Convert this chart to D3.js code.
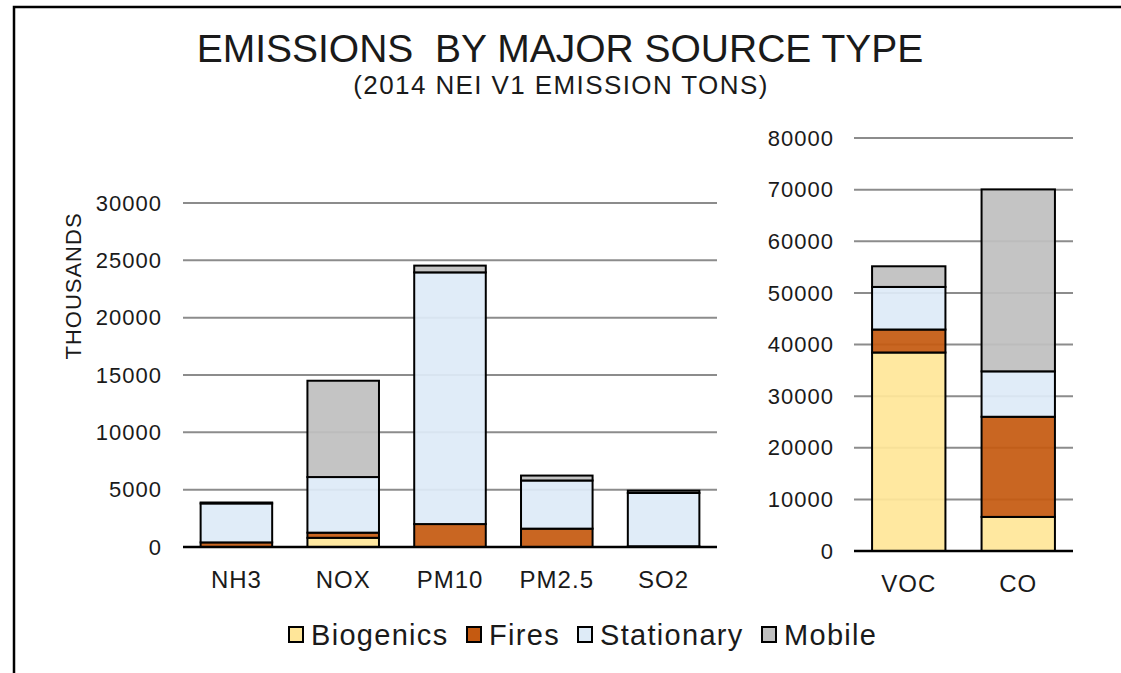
<!DOCTYPE html>
<html>
<head>
<meta charset="utf-8">
<script src="https://cdn.jsdelivr.net/npm/d3@7"></script>
<style>
  body { margin: 0; background: #fff; }
  text { font-family: 'Liberation Sans', Arial, sans-serif; fill: #1a1a1a; }
</style>
</head>
<body>
<script>
// Series (stack order, bottom to top)
var seriesNames = ['Biogenics', 'Fires', 'Stationary', 'Mobile']
var seriesColors = ['#FFE699', '#C55A11', '#DEEBF7', '#BFBFBF']

// Left panel, thousands of tons
var leftCategories = ['NH3', 'NOX', 'PM10', 'PM2.5', 'SO2']
var leftBiogenics = [0, 800, 0, 0, 0]
var leftFires = [400, 450, 2000, 1600, 60]
var leftStationary = [3400, 4850, 21950, 4200, 4650]
var leftMobile = [80, 8400, 590, 430, 200]
var leftTicks = [0, 5000, 10000, 15000, 20000, 25000, 30000]

// Right panel
var rightCategories = ['VOC', 'CO']
var rightBiogenics = [38450, 6600]
var rightFires = [4450, 19400]
var rightStationary = [8250, 8800]
var rightMobile = [4000, 35240]
var rightTicks = [0, 10000, 20000, 30000, 40000, 50000, 60000, 70000, 80000]

var width = 1121
var height = 673

var svg = d3.select('body').append('svg')
    .attr('width', width)
    .attr('height', height)

// outer frame (top and left edges)
svg.append('path')
    .attr('d', 'M14,673 L14,7 L1121,7')
    .attr('fill', 'none')
    .attr('stroke', '#000')
    .attr('stroke-width', 2.5)

svg.append('text')
    .attr('x', 560).attr('y', 62)
    .attr('text-anchor', 'middle')
    .style('font-size', '39px')
    .style('white-space', 'pre')
    .text('EMISSIONS  BY MAJOR SOURCE TYPE')

svg.append('text')
    .attr('x', 561).attr('y', 94)
    .attr('text-anchor', 'middle')
    .style('font-size', '26px')
    .style('letter-spacing', '1.4px')
    .text('(2014 NEI V1 EMISSION TONS)')

function buildRows(categories, bio, fires, stat, mobile) {
    return categories.map(function(c, i) {
        return { category: c, Biogenics: bio[i], Fires: fires[i], Stationary: stat[i], Mobile: mobile[i] }
    })
}

function drawPanel(rows, ticks, x0, x1, yBottom, yTop, labelRight, labelY) {
    var x = d3.scaleBand()
        .domain(rows.map(d => d.category))
        .range([x0, x1])
        .paddingInner(0.33)
        .paddingOuter(0.165)

    var y = d3.scaleLinear()
        .domain([0, ticks[ticks.length - 1]])
        .range([yBottom, yTop])

    var g = svg.append('g')

    // gridlines
    g.selectAll('line.grid')
        .data(ticks.filter(t => t > 0))
        .enter().append('line')
            .attr('x1', x0).attr('x2', x1)
            .attr('y1', d => y(d)).attr('y2', d => y(d))
            .attr('stroke', '#8c8c8c')
            .attr('stroke-width', 2)

    // tick labels
    g.selectAll('text.tick')
        .data(ticks)
        .enter().append('text')
            .attr('x', labelRight)
            .attr('y', d => y(d))
            .attr('dy', '0.35em')
            .attr('text-anchor', 'end')
            .style('font-size', '22px')
            .style('letter-spacing', '1px')
            .text(d => d)

    var stack = d3.stack().keys(seriesNames)(rows)

    stack.forEach(function(layer, j) {
        g.selectAll(null)
            .data(layer)
            .enter().append('rect')
                .attr('x', d => x(d.data.category))
                .attr('width', x.bandwidth())
                .attr('y', d => y(d[1]))
                .attr('height', d => y(d[0]) - y(d[1]))
                .attr('fill', seriesColors[j])
                .attr('fill-opacity', 0.93)
                .attr('stroke', '#000')
                .attr('stroke-width', 2)
                .style('display', d => d[1] - d[0] > 0 ? null : 'none')
    })

    // baseline
    g.append('line')
        .attr('x1', x0).attr('x2', x1)
        .attr('y1', yBottom).attr('y2', yBottom)
        .attr('stroke', '#000')
        .attr('stroke-width', 2.5)

    // category labels
    g.selectAll('text.cat')
        .data(rows)
        .enter().append('text')
            .attr('x', d => x(d.category) + x.bandwidth() / 2)
            .attr('y', labelY)
            .attr('text-anchor', 'middle')
            .style('font-size', '24px')
            .style('letter-spacing', '1px')
            .text(d => d.category)
}

drawPanel(buildRows(leftCategories, leftBiogenics, leftFires, leftStationary, leftMobile),
          leftTicks, 183, 717, 547, 203, 162, 588)

drawPanel(buildRows(rightCategories, rightBiogenics, rightFires, rightStationary, rightMobile),
          rightTicks, 854, 1073, 551, 138, 834, 592)

svg.append('text')
    .attr('transform', 'translate(81,286) rotate(-90)')
    .attr('text-anchor', 'middle')
    .style('font-size', '22px')
    .style('letter-spacing', '1px')
    .text('THOUSANDS')

// legend
var legendX = [288, 466, 577, 761]
seriesNames.forEach(function(name, i) {
    var lg = svg.append('g').attr('transform', 'translate(' + legendX[i] + ',0)')
    lg.append('rect')
        .attr('x', 1).attr('y', 627)
        .attr('width', 14).attr('height', 15)
        .attr('fill', seriesColors[i])
        .attr('stroke', '#000')
        .attr('stroke-width', 2)
    lg.append('text')
        .attr('x', 23).attr('y', 645)
        .style('font-size', '29px')
        .style('letter-spacing', '1.3px')
        .text(name)
})
</script>
</body>
</html>
